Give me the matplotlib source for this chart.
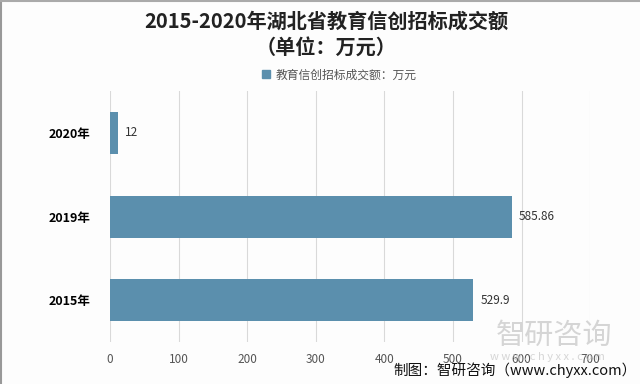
import matplotlib.pyplot as plt
from matplotlib.patches import Patch

plt.rcParams['font.family'] = ['Noto Sans CJK SC', 'DejaVu Sans']

# data
years = ['2015年', '2019年', '2020年']
values = [529.9, 585.86, 12]
value_labels = ['529.9', '585.86', '12']
xticks = [0, 100, 200, 300, 400, 500, 600, 700]

bar_color = '#5b8fad'

fig = plt.figure(figsize=(6.4, 3.84), dpi=100)
fig.patch.set_facecolor('#fdfdfd')
ax = fig.add_axes([0.172, 0.109, 0.75, 0.654])
ax.set_facecolor('#fdfdfd')

bars = ax.barh(years, values, height=0.5, color=bar_color, zorder=3)
for b, lab in zip(bars, value_labels):
    ax.text(b.get_width() + 10, b.get_y() + b.get_height() / 2, lab,
            va='center', ha='left', fontsize=8.5, color='#333333', zorder=4)

ax.set_xlim(0, 700)
ax.set_ylim(-0.5, 2.5)
ax.set_xticks(xticks)
ax.tick_params(axis='x', length=0, labelsize=8.5, labelcolor='#555555', pad=8)
ax.tick_params(axis='y', length=0, labelsize=9, pad=14)
for t in ax.get_yticklabels():
    t.set_fontweight('bold')
ax.grid(axis='x', color='#d9d9d9', linewidth=0.8, zorder=0)
for s in ax.spines.values():
    s.set_visible(False)

# title
fig.text(0.51, 0.945, '2015-2020年湖北省教育信创招标成交额', ha='center', va='center',
         fontsize=14.5, fontweight='bold', color='#222222')
fig.text(0.51, 0.877, '（单位：万元）', ha='center', va='center',
         fontsize=14.5, fontweight='bold', color='#222222')

# legend
leg = fig.legend(handles=[Patch(color=bar_color, label='教育信创招标成交额：万元')],
                 loc='center', bbox_to_anchor=(0.53, 0.805), frameon=False,
                 fontsize=8.5, handlelength=0.7, handleheight=0.7, handletextpad=0.4)
for t in leg.get_texts():
    t.set_color('#555555')

# watermark
fig.text(0.775, 0.125, '智研咨询', ha='left', va='center', fontsize=21,
         color='#c8c8c8', alpha=0.75)
fig.text(0.855, 0.07, 'w w w . c h y x x . c o m', ha='center', va='center',
         fontsize=8, color='#cccccc', alpha=0.8)
fig.text(0.995, 0.035, '制图：智研咨询（www.chyxx.com）', ha='right', va='center',
         fontsize=10.5, color='#111111')

# frame
fig.add_artist(plt.Line2D([0.002, 0.002], [0, 1], color='#999999', lw=1.5))
fig.add_artist(plt.Line2D([0, 1], [0.998, 0.998], color='#aaaaaa', lw=1.5))

fig.savefig('out.png', dpi=100, facecolor=fig.get_facecolor())
